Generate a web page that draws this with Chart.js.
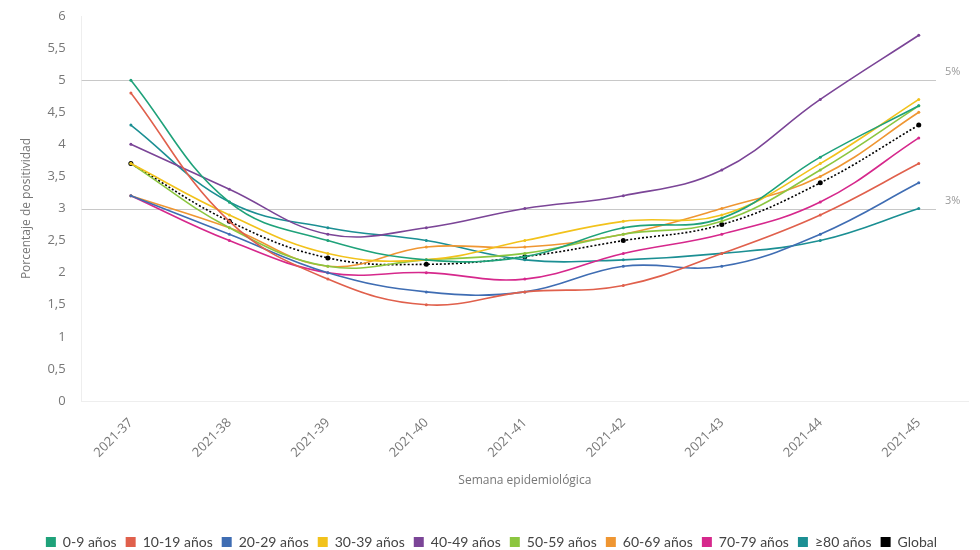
<!DOCTYPE html>
<html>
<head>
<meta charset="utf-8">
<script src="https://cdn.jsdelivr.net/npm/chart.js@4"></script>
<style>
html,body{margin:0;padding:0;background:#fff;overflow:hidden;}
#wrap{width:980px;height:550px;position:relative;overflow:hidden;}
canvas{position:absolute;left:0;top:0;}
</style>
</head>
<body>
<div id="wrap"><canvas id="c" width="980" height="559"></canvas></div>
<script>
const categories = ["2021-37","2021-38","2021-39","2021-40","2021-41","2021-42","2021-43","2021-44","2021-45"];
const s0_9   = [5.0, 3.1, 2.5, 2.2, 2.25, 2.7, 2.85, 3.8, 4.6];
const s10_19 = [4.8, 2.8, 1.9, 1.5, 1.7, 1.8, 2.3, 2.9, 3.7];
const s20_29 = [3.2, 2.6, 2.0, 1.7, 1.7, 2.1, 2.1, 2.6, 3.4];
const s30_39 = [3.7, 2.9, 2.3, 2.2, 2.5, 2.8, 2.9, 3.7, 4.7];
const s40_49 = [4.0, 3.3, 2.6, 2.7, 3.0, 3.2, 3.6, 4.7, 5.7];
const s50_59 = [3.7, 2.7, 2.1, 2.2, 2.3, 2.6, 2.8, 3.6, 4.6];
const s60_69 = [3.2, 2.7, 2.1, 2.4, 2.4, 2.6, 3.0, 3.5, 4.5];
const s70_79 = [3.2, 2.5, 2.0, 2.0, 1.9, 2.3, 2.6, 3.1, 4.1];
const s80    = [4.3, 3.1, 2.7, 2.5, 2.2, 2.2, 2.3, 2.5, 3.0];
const sGlobal= [3.7, 2.8, 2.23, 2.13, 2.25, 2.5, 2.75, 3.4, 4.3];
const seriesNames = ["0-9 años","10-19 años","20-29 años","30-39 años","40-49 años","50-59 años","60-69 años","70-79 años","≥80 años","Global"];
const seriesColors = ["#1fa27a","#e0604c","#3f6db3","#f2c21b","#7b4597","#8cc640","#ef9632","#d6288c","#1b8f93","#000000"];
const refValues = [5, 3];
const refLabels = ["5%", "3%"];
const yTicks = {min:0, max:6, step:0.5};

const FONT = '"Open Sans", sans-serif';
const allData = [s0_9,s10_19,s20_29,s30_39,s40_49,s50_59,s60_69,s70_79,s80,sGlobal];
const datasets = allData.map((d,i)=>({
  label: seriesNames[i],
  data: d,
  borderColor: seriesColors[i],
  backgroundColor: seriesColors[i],
  borderWidth: 1.6,
  borderDash: i===9 ? [2,2] : [],
  pointRadius: i===9 ? 2.5 : 1.5,
  pointHoverRadius: 3,
  pointBorderWidth: 0,
  tension: 0.4,
  fill: false
}));

const refPlugin = {
  id:'refLines',
  beforeDatasetsDraw(chart){
    const {ctx, chartArea, scales:{y}} = chart;
    ctx.save();
    refValues.forEach((v,i)=>{
      const py = Math.round(y.getPixelForValue(v))+0.5;
      ctx.strokeStyle = '#c8c8c8';
      ctx.lineWidth = 1;
      ctx.beginPath();
      ctx.moveTo(chartArea.left, py);
      ctx.lineTo(chartArea.right - 32, py);
      ctx.stroke();
      ctx.fillStyle = '#9a9a9a';
      ctx.font = '11px ' + FONT;
      ctx.textAlign = 'left';
      ctx.textBaseline = 'bottom';
      ctx.fillText(refLabels[i], chartArea.right - 23, py - 3);
    });
    ctx.restore();
  }
};

new Chart(document.getElementById('c'), {
  type:'line',
  data:{labels:categories, datasets},
  options:{
    responsive:false,
    animation:false,
    layout:{padding:{top:16,right:12,left:15,bottom:0}},
    plugins:{
      legend:{
        position:'bottom',
        labels:{
          boxWidth:10, boxHeight:10, padding:9,
          color:'#444',
          font:{family:'Lato, sans-serif', size:14},
          generateLabels:(chart)=>Chart.defaults.plugins.legend.labels.generateLabels(chart).map(l=>Object.assign(l,{lineDash:[], lineWidth:0}))
        }
      },
      tooltip:{enabled:false}
    },
    scales:{
      x:{
        offset:true,
        grid:{display:false},
        border:{display:true, color:'#eeeeee'},
        ticks:{color:'#777', maxRotation:45, minRotation:45, font:{family:FONT, size:13}, padding:6},
        title:{display:true, text:'Semana epidemiológica', color:'#777', font:{family:FONT, size:12}, padding:{top:6,bottom:38}},
        afterFit:(scale)=>{ scale.height = 125; }
      },
      y:{
        min:yTicks.min, max:yTicks.max,
        grid:{display:false},
        border:{display:true, color:'#eeeeee'},
        ticks:{stepSize:yTicks.step, color:'#777', padding:8, font:{family:FONT, size:13},
          callback:(v)=>String(v).replace('.',',')},
        title:{display:true, text:'Porcentaje de positividad', color:'#777', font:{family:FONT, size:12}, padding:{bottom:6}}
      }
    }
  },
  plugins:[refPlugin]
});
</script>
</body>
</html>
